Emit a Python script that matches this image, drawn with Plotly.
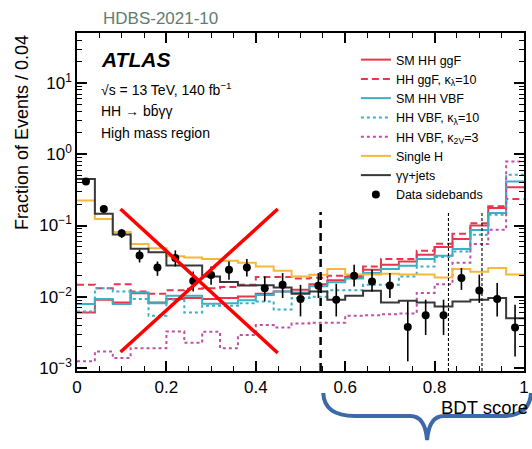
import numpy as np
import plotly.graph_objects as go

# ---------------- data ----------------
bin_edges = [round(0.04 * i, 2) for i in range(26)]
bin_centers = [round(0.02 + 0.04 * i, 2) for i in range(25)]

sm_hh_ggf = [0.0060, 0.0091, 0.0083, 0.0112, 0.0083, 0.0093, 0.0096, 0.0093, 0.0096, 0.0101,
             0.0110, 0.0119, 0.0125, 0.0150, 0.0170, 0.0190, 0.0239, 0.0281, 0.0313, 0.0388,
             0.0499, 0.0646, 0.100, 0.176, 0.345]
hh_ggf_kl10 = [0.0147, 0.0132, 0.0150, 0.0119, 0.0110, 0.0123, 0.0130, 0.0132, 0.0137, 0.0147,
               0.0189, 0.0189, 0.0180, 0.0185, 0.0197, 0.0200, 0.0266, 0.0338, 0.0338, 0.0442,
               0.0554, 0.0766, 0.108, 0.186, 0.235]
sm_hh_vbf = [0.0079, 0.0093, 0.0079, 0.0115, 0.0081, 0.0103, 0.0103, 0.0080, 0.0081, 0.0089,
             0.0106, 0.0119, 0.0115, 0.0140, 0.0160, 0.0180, 0.0215, 0.0245, 0.0273, 0.0338,
             0.0376, 0.0467, 0.0868, 0.150, 0.415]
hh_vbf_kl10 = [0.0062, 0.0132, 0.0119, 0.0093, 0.0054, 0.0091, 0.0060, 0.0075, 0.0075, 0.0081,
               0.0086, 0.0066, 0.0096, 0.0100, 0.0123, 0.0123, 0.0147, 0.0147, 0.0193, 0.0266,
               0.036, 0.0432, 0.074, 0.142, 0.515]
hh_vbf_k2v3 = [0.00124, 0.00171, 0.00138, 0.0019, 0.0019, 0.00326, 0.00226, 0.00324, 0.0019, 0.0029,
               0.0040, 0.0037, 0.0042, 0.0043, 0.0043, 0.0054, 0.0055, 0.0057, 0.0058, 0.0113,
               0.015, 0.030, 0.055, 0.087, 0.79]
single_h = [0.225, 0.123, 0.081, 0.055, 0.048, 0.037, 0.0355, 0.034, 0.032, 0.030,
            0.0266, 0.0232, 0.0193, 0.0203, 0.0245, 0.0205, 0.0205, 0.021, 0.0205, 0.0205,
            0.0187, 0.0245, 0.0225, 0.0253, 0.0205]
gg_jets = [0.45, 0.146, 0.075, 0.047, 0.042, 0.0275, 0.0275, 0.0193, 0.0161, 0.0144,
           0.0145, 0.0135, 0.0110, 0.0119, 0.0091, 0.0103, 0.0121, 0.0083, 0.0088, 0.0083,
           0.0073, 0.0086, 0.0091, 0.0096, 0.0050]
data_val = [0.415, 0.170, 0.078, 0.038, 0.0258, 0.0349, 0.0166, 0.0202, 0.0239, 0.0258,
            0.0132, 0.0147, 0.0093, 0.0143, 0.0091, 0.0197, 0.0164, 0.0144, 0.00375, 0.0055,
            0.0055, 0.0183, 0.0122, 0.0093, 0.0037]
data_hi = [0.44, 0.180, 0.089, 0.0457, 0.0313, 0.0447, 0.0226, 0.0266, 0.0313, 0.0338,
           0.0193, 0.0215, 0.0147, 0.0215, 0.0152, 0.0281, 0.0239, 0.0215, 0.0086, 0.0091,
           0.0091, 0.0253, 0.0204, 0.0156, 0.0077]
data_lo = [0.39, 0.160, 0.0667, 0.0303, 0.0197, 0.0266, 0.0119, 0.0147, 0.0173, 0.0193,
           0.0086, 0.0096, 0.0053, 0.0096, 0.0053, 0.0139, 0.0119, 0.0096, 0.00124, 0.0029,
           0.0029, 0.0125, 0.0082, 0.0053, 0.00145]
category_cuts = [0.545, 0.831, 0.906]

y_tickvals = [1e-3, 1e-2, 1e-1, 1, 10]
y_ticktext = ["10<sup>\u22123</sup>", "10<sup>\u22122</sup>", "10<sup>\u22121</sup>",
              "10<sup>0</sup>", "10<sup>1</sup>"]
x_tickvals = [0, 0.2, 0.4, 0.6, 0.8, 1.0]
x_ticktext = ["0", "0.2", "0.4", "0.6", "0.8", "1"]

# ---------------- style ----------------
FONT = "Liberation Sans, Arial, Helvetica, sans-serif"
RED = "#e6374f"
CYAN = "#3bb0c4"
MAG = "#c24ea6"
GOLD = "#f5b83a"
DARK = "#383838"

W, H = 532, 449
L, R, T, B = 77, 3, 33, 78
PW, PH = W - L - R, H - T - B


def px(x):
    return (x - L) / PW


def py(y):
    return (H - B - y) / PH


def step(v):
    return list(v) + [v[-1]]


fig = go.Figure()

series = [
    ("SM HH ggF", sm_hh_ggf, RED, "solid"),
    ("HH ggF, \u03ba<sub>\u03bb</sub>=10", hh_ggf_kl10, RED, "7px,4px"),
    ("SM HH VBF", sm_hh_vbf, CYAN, "solid"),
    ("HH VBF, \u03ba<sub>\u03bb</sub>=10", hh_vbf_kl10, CYAN, "dot"),
    ("HH VBF, \u03ba<sub>2V</sub>=3", hh_vbf_k2v3, MAG, "dot"),
    ("Single H", single_h, GOLD, "solid"),
    ("\u03b3\u03b3+jets", gg_jets, DARK, "solid"),
]
for name, vals, col, dash in series:
    fig.add_trace(go.Scatter(
        x=bin_edges, y=step(vals), mode="lines", name=name,
        line=dict(color=col, width=2, dash=dash, shape="hv"),
    ))

err_plus = [h - v for h, v in zip(data_hi, data_val)]
err_minus = [v - l for v, l in zip(data_val, data_lo)]
fig.add_trace(go.Scatter(
    x=bin_centers, y=data_val, mode="markers", name="Data sidebands",
    marker=dict(color="black", size=8),
    error_y=dict(type="data", array=err_plus, arrayminus=err_minus, symmetric=False,
                 color="black", thickness=1.6, width=0),
))

shapes = []
# category boundaries
for i, c in enumerate(category_cuts):
    shapes.append(dict(type="line", xref="x", yref="paper", x0=c, x1=c, y0=0, y1=py(212),
                       line=dict(color="black", width=2.5 if i == 0 else 1.1,
                                 dash="8px,5px" if i == 0 else "3px,2px")))
# red cross overlay
shapes.append(dict(type="line", xref="paper", yref="paper", x0=px(121), y0=py(209),
                   x1=px(280), y1=py(353), line=dict(color="#ff0000", width=3.5)))
shapes.append(dict(type="line", xref="paper", yref="paper", x0=px(121), y0=py(352),
                   x1=px(280), y1=py(209), line=dict(color="#ff0000", width=3.5)))
# blue brace
pts = [("M", [(326, 393)]), ("Q", [(327, 416), (358, 416)]), ("L", [(414, 416)]),
       ("Q", [(429, 416), (431, 440)]), ("Q", [(433, 416), (448, 416)]),
       ("L", [(506, 416)]), ("Q", [(535, 416), (536, 393)])]
path = " ".join(cmd + " " + " ".join(f"{px(a):.4f},{py(b):.4f}" for a, b in p) for cmd, p in pts)
shapes.append(dict(type="path", xref="paper", yref="paper", path=path,
                   line=dict(color="#3d69a8", width=4)))

ann = [
    dict(text="HDBS-2021-10", x=px(161), y=py(18), font=dict(size=17, color="#5f7d6e"),
         xanchor="center", yanchor="middle"),
    dict(text="<b><i>ATLAS</i></b>", x=px(99), y=py(60), font=dict(size=21, color="black"),
         xanchor="left", yanchor="middle"),
    dict(text="\u221as = 13 TeV, 140 fb<sup>\u22121</sup>", x=px(99), y=py(89),
         font=dict(size=14, color="black"), xanchor="left", yanchor="middle"),
    dict(text="HH \u2192 bb\u0304\u03b3\u03b3", x=px(99), y=py(111),
         font=dict(size=14, color="black"), xanchor="left", yanchor="middle"),
    dict(text="High mass region", x=px(99), y=py(133),
         font=dict(size=14, color="black"), xanchor="left", yanchor="middle"),
    dict(text="Fraction of Events / 0.04", x=px(21), y=py(33), textangle=-90,
         font=dict(size=18, color="black"), xanchor="center", yanchor="top"),
    dict(text="BDT score", x=px(443), y=py(407), font=dict(size=18.5, color="black"),
         xanchor="left", yanchor="middle"),
]
for a in ann:
    a.update(xref="paper", yref="paper", showarrow=False)

axis_common = dict(showline=True, linecolor="black", linewidth=1.5, mirror="allticks",
                   ticks="inside", ticklen=10, tickwidth=1.5, tickcolor="black",
                   showgrid=False, zeroline=False,
                   tickfont=dict(size=17, color="black", family=FONT))

fig.update_layout(
    width=W, height=H, autosize=False,
    margin=dict(l=L, r=R, t=T, b=B, pad=0),
    paper_bgcolor="white", plot_bgcolor="white",
    font=dict(family=FONT, color="black"),
    shapes=shapes, annotations=ann,
    showlegend=True,
    legend=dict(x=px(359), y=py(45), xanchor="left", yanchor="top",
                bgcolor="rgba(0,0,0,0)", font=dict(size=12.5, color="black"),
                itemwidth=30, tracegroupgap=0),
    xaxis=dict(range=[0, 1], tickvals=x_tickvals, ticktext=x_ticktext,
               minor=dict(dtick=0.05, tick0=0, ticklen=5, tickwidth=1.2, tickcolor="black",
                          ticks="inside"),
               **axis_common),
    yaxis=dict(type="log", range=[-3.042, 1.702], tickvals=y_tickvals, ticktext=y_ticktext,
               minor=dict(tickmode="array",
                          tickvals=[k * 10.0 ** e for e in range(-4, 2) for k in range(2, 10)],
                          ticklen=5, tickwidth=1.2, tickcolor="black", ticks="inside"),
               **axis_common),
)

fig.write_html("out.html")
